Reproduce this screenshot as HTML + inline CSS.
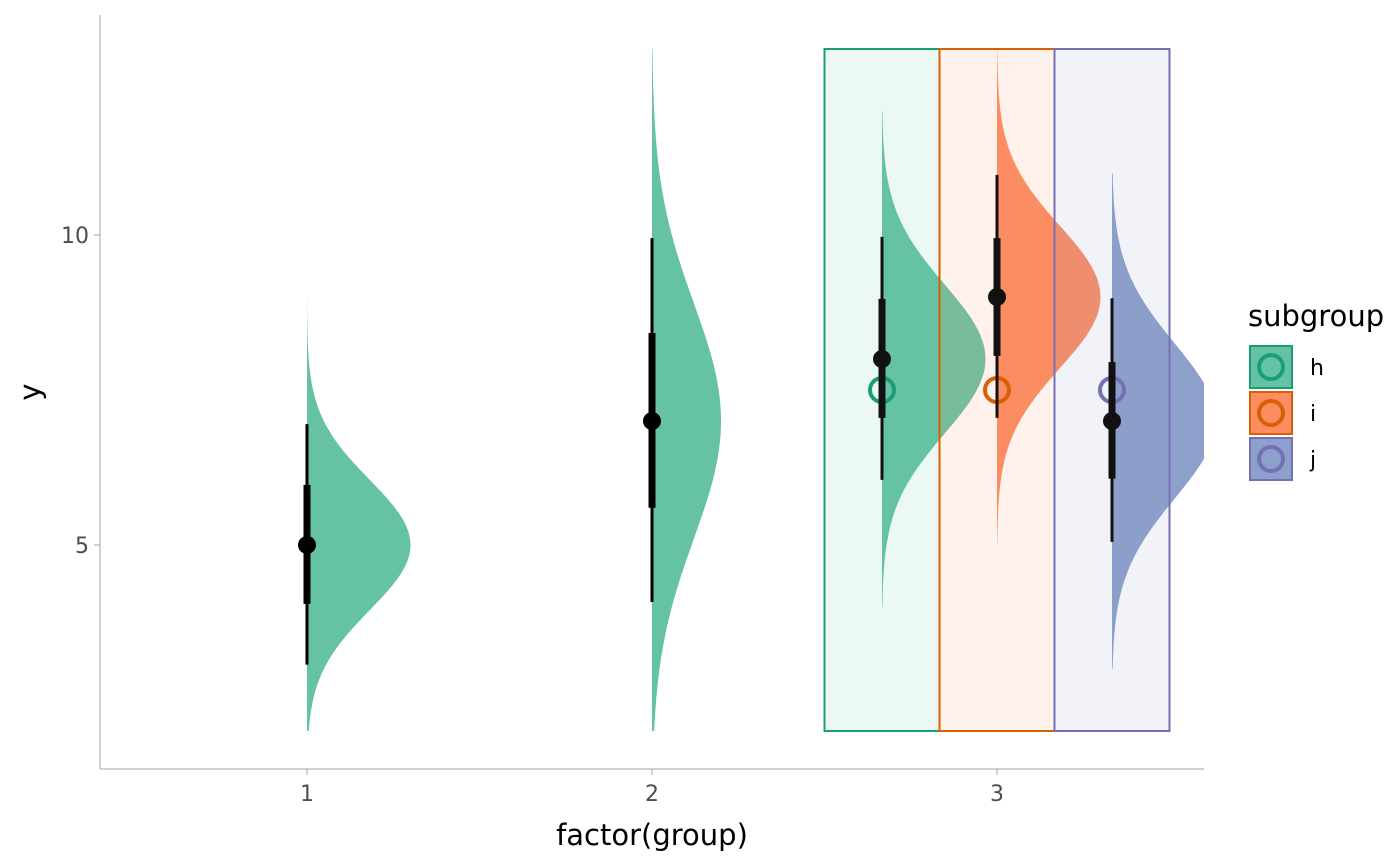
<!DOCTYPE html>
<html><head><meta charset="utf-8"><style>
body{margin:0;background:#fff;}
svg{display:block;font-family:"DejaVu Sans","Liberation Sans",sans-serif;}
</style></head><body>
<svg id="chart" width="1400" height="866" viewBox="0 0 1400 866" xmlns="http://www.w3.org/2000/svg">
<defs><clipPath id="pc"><rect x="100" y="15" width="1104" height="754"/></clipPath></defs>
<g id="slabs" clip-path="url(#pc)"></g>
<g id="rects"></g>
<g id="ints"></g>
<g id="axes"></g>
<g id="legend"></g>
</svg>
<script>
const xPos = [1, 2, 3 - 1/3, 3, 3 + 1/3];
const slabNames = ["g1", "g2", "h", "i", "j"];
const slabMean = [5, 7, 8, 9, 7];
const slabSd = [1.05, 1.9, 1.2, 1.15, 1.25];
const slabLo = [2, 2, 4, 5, 3];
const slabHi = [9, 13, 12, 13, 11];
const slabPeak = [0.30, 0.20, 0.30, 0.30, 0.30];
const slabFill = ["#66c2a5", "#66c2a5", "#66c2a5", "#fc8d62", "#8da0cb"];
const pointVal = [5, 7, 8, 9, 7];
const thickLo = [4.05, 5.6, 7.05, 8.05, 6.07];
const thickHi = [5.97, 8.42, 8.97, 9.95, 7.95];
const thinLo = [3.07, 4.08, 6.05, 7.05, 5.05];
const thinHi = [6.95, 9.95, 9.97, 10.97, 8.98];
const subNames = ["h", "i", "j"];
const subX = [3 - 1/3, 3, 3 + 1/3];
const subStroke = ["#1b9e77", "#d95f02", "#7570b3"];
const subFill = ["#66c2a5", "#fc8d62", "#8da0cb"];
const subOpen = [7.5, 7.5, 7.5];
const rectYmin = 2, rectYmax = 13;
const yTicks = [5, 10];
const xTicks = [1, 2, 3];

const NS = "http://www.w3.org/2000/svg";
const X = v => 307 + (v - 1) * 345;
const Y = v => 855 - v * 62;
function mk(tag, attrs, parent){const e=document.createElementNS(NS,tag);for(const k in attrs)e.setAttribute(k,attrs[k]);parent.appendChild(e);return e;}

const gS=document.getElementById('slabs');
slabNames.forEach((n,i)=>{
  const x0=X(xPos[i]);let d='M'+x0+','+Y(slabLo[i]);
  for(let k=0;k<=200;k++){const v=slabLo[i]+(slabHi[i]-slabLo[i])*k/200;const z=(v-slabMean[i])/slabSd[i];
    d+=' L'+(x0+slabPeak[i]*345*Math.exp(-z*z/2)).toFixed(1)+','+Y(v).toFixed(1);}
  d+=' L'+x0+','+Y(slabHi[i])+'Z';
  const p=mk('path',{d:d,fill:slabFill[i]},gS);
  
  
});
const gR=document.getElementById('rects');
subNames.forEach((s,i)=>{
  const r=mk('rect',{x:X(subX[i]-1/6),y:Y(rectYmax),width:X(subX[i]+1/6)-X(subX[i]-1/6),height:Y(rectYmin)-Y(rectYmax),fill:subFill[i],'fill-opacity':0.12,stroke:subStroke[i],'stroke-width':2},gR);
  
  
});
const gI=document.getElementById('ints');
subNames.forEach((s,i)=>{
  const o=mk('circle',{cx:X(subX[i]),cy:Y(subOpen[i]),r:12,fill:'none',stroke:subStroke[i],'stroke-width':4},gI);
  
  
});
slabNames.forEach((n,i)=>{
  const x0=X(xPos[i]);const c=i<2?'#000':'#111';
  const a=mk('line',{x1:x0,x2:x0,y1:Y(thinLo[i]),y2:Y(thinHi[i]),stroke:c,'stroke-width':3},gI);
  
  
  const b=mk('line',{x1:x0,x2:x0,y1:Y(thickLo[i]),y2:Y(thickHi[i]),stroke:c,'stroke-width':7},gI);
  
  
  const p=mk('circle',{cx:x0,cy:Y(pointVal[i]),r:9,fill:c},gI);
  
  
});
const gA=document.getElementById('axes');
mk('line',{x1:100,x2:100,y1:15,y2:769,stroke:'#b3b3b3','stroke-width':1.2},gA);
mk('line',{x1:100,x2:1204,y1:769,y2:769,stroke:'#b3b3b3','stroke-width':1.2},gA);
yTicks.forEach(t=>{
  mk('line',{x1:94,x2:100,y1:Y(t),y2:Y(t),stroke:'#b3b3b3','stroke-width':1.2},gA);
  const tx=mk('text',{x:89,y:Y(t)+8,'text-anchor':'end','font-size':22,fill:'#4d4d4d'},gA);tx.textContent=t;
  
  
});
xTicks.forEach(t=>{
  mk('line',{x1:X(t),x2:X(t),y1:769,y2:775,stroke:'#b3b3b3','stroke-width':1.2},gA);
  const tx=mk('text',{x:X(t),y:801,'text-anchor':'middle','font-size':22,fill:'#4d4d4d'},gA);tx.textContent=t;
  
  
});
const xt=mk('text',{x:652,y:845,'text-anchor':'middle','font-size':29,fill:'#000'},gA);xt.textContent='factor(group)';


const yt=mk('text',{x:40,y:392,'text-anchor':'middle','font-size':29,fill:'#000',transform:'rotate(-90 40 392)'},gA);yt.textContent='y';


const gL=document.getElementById('legend');
const lt=mk('text',{x:1248,y:326,'font-size':29,fill:'#000'},gL);lt.textContent='subgroup';


subNames.forEach((s,i)=>{
  const y0=346+i*46;
  const g=mk('g',{},gL);
  
  
  mk('rect',{x:1250,y:y0,width:42,height:42,fill:subFill[i],stroke:subStroke[i],'stroke-width':2},g);
  mk('circle',{cx:1271,cy:y0+21,r:12,fill:'none',stroke:subStroke[i],'stroke-width':4},g);
  const t=mk('text',{x:1310,y:y0+29,'font-size':22,fill:'#000'},g);t.textContent=s;
});
</script>
</body></html>
